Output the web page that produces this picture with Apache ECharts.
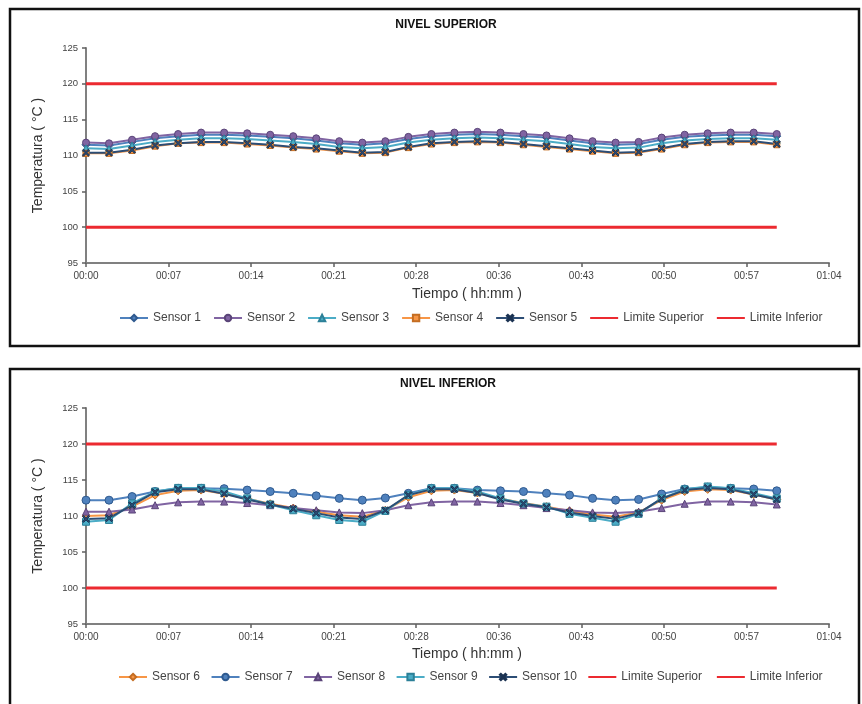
<!DOCTYPE html>
<html>
<head>
<meta charset="utf-8">
<title>Nivel superior / Nivel inferior</title>
<script src="https://cdn.jsdelivr.net/npm/echarts@6/dist/echarts.min.js"></script>
<style>
  html, body { margin: 0; padding: 0; background: #fff; }
  #chart { width: 862px; height: 704px; }
</style>
</head>
<body>
<div id="chart"></div>
<script>
// Sample times (mm:ss from start of the run)
const times = ['00:00','01:59','03:58','05:57','07:56','09:55','11:54','13:53','15:52','17:51',
  '19:50','21:49','23:48','25:47','27:46','29:45','31:44','33:43','35:42','37:41',
  '39:40','41:39','43:38','45:37','47:36','49:35','51:34','53:33','55:32','57:31','59:30'];

// Time axis tick labels (hh:mm)
const xTickLabels = ['00:00','00:07','00:14','00:21','00:28','00:36','00:43','00:50','00:57','01:04'];

// Temperature limits (°C)
const limiteSuperior = 120;
const limiteInferior = 100;

// Upper level sensors (°C)
const sensor1 = [111.5,111.4,111.9,112.4,112.7,112.9,112.9,112.8,112.6,112.4,112.1,111.7,111.5,111.7,112.3,112.7,112.9,113.0,112.9,112.7,112.5,112.1,111.7,111.5,111.6,112.2,112.6,112.8,112.9,112.9,112.7];
const sensor2 = [111.8,111.7,112.2,112.7,113.0,113.2,113.2,113.1,112.9,112.7,112.4,112.0,111.8,112.0,112.6,113.0,113.2,113.3,113.2,113.0,112.8,112.4,112.0,111.8,111.9,112.5,112.9,113.1,113.2,113.2,113.0];
const sensor3 = [111.0,110.9,111.4,111.9,112.2,112.4,112.4,112.3,112.1,111.9,111.6,111.2,111.0,111.2,111.8,112.2,112.4,112.5,112.4,112.2,112.0,111.6,111.2,111.0,111.1,111.7,112.1,112.3,112.4,112.4,112.2];
const sensor4 = [110.3,110.3,110.7,111.3,111.7,111.8,111.8,111.6,111.4,111.1,110.9,110.6,110.3,110.4,111.1,111.6,111.8,111.9,111.8,111.5,111.2,110.9,110.6,110.3,110.4,110.9,111.5,111.8,111.9,111.9,111.5];
const sensor5 = [110.4,110.4,110.8,111.4,111.7,111.9,111.9,111.7,111.5,111.2,111.0,110.7,110.4,110.5,111.2,111.7,111.9,112.0,111.9,111.6,111.3,111.0,110.7,110.4,110.5,111.0,111.6,111.9,112.0,112.0,111.6];

// Lower level sensors (°C)
const sensor6 = [110.0,110.1,111.3,112.9,113.5,113.6,113.1,112.4,111.7,111.1,110.6,110.1,109.9,110.8,112.6,113.5,113.6,113.2,112.4,111.8,111.3,110.7,110.2,109.9,110.5,112.2,113.4,113.7,113.6,113.0,112.3];
const sensor7 = [112.2,112.2,112.7,113.4,113.85,113.85,113.8,113.6,113.4,113.15,112.8,112.45,112.2,112.5,113.15,113.85,113.85,113.6,113.5,113.4,113.15,112.9,112.45,112.2,112.3,113.05,113.75,114.0,113.85,113.75,113.5];
const sensor8 = [110.6,110.6,110.9,111.5,111.9,112.0,112.0,111.8,111.5,111.1,110.8,110.5,110.4,110.8,111.5,111.9,112.0,112.0,111.8,111.5,111.1,110.8,110.5,110.4,110.6,111.1,111.7,112.0,112.0,111.9,111.6];
const sensor9 = [109.2,109.45,111.75,113.4,113.9,113.9,113.4,112.45,111.6,110.8,110.1,109.45,109.2,110.7,112.9,113.85,113.85,113.4,112.45,111.75,111.3,110.3,109.75,109.2,110.3,112.45,113.7,114.1,113.85,113.15,112.45];
const sensor10 = [109.6,109.7,111.5,113.3,113.7,113.7,113.1,112.3,111.6,111.0,110.4,109.8,109.6,110.8,112.9,113.7,113.7,113.2,112.3,111.7,111.2,110.5,110.0,109.6,110.4,112.4,113.6,113.9,113.7,113.0,112.3];

// ---------------------------------------------------------------
const FONT = '"Liberation Sans", Arial, sans-serif';
const AXIS_MAX = 64;                 // minutes
const AXIS_STEP = AXIS_MAX / 9;      // one major unit

const toMinutes = s => { const [m, sec] = s.split(':').map(Number); return m + sec / 60; };
const tMin = times.map(toMinutes);
const pairs = vals => vals.map((v, i) => [tMin[i], v]);

const xMark = 'path://M0,1.5L1.5,0L5,3.5L8.5,0L10,1.5L6.5,5L10,8.5L8.5,10L5,6.5L1.5,10L0,8.5L3.5,5Z';

const palette = {
  blue:   ['#4F81BD', '#2f5a8f'],
  purple: ['#8064A2', '#5a4478'],
  aqua:   ['#4BACC6', '#2c8098'],
  orange: ['#F79646', '#c46d22'],
  navy:   ['#2C4D75', '#1b3252'],
  red:    '#EC2A30'
};

function sensorSeries(name, vals, col, symbol, gridIdx, size) {
  return {
    name, type: 'line', xAxisIndex: gridIdx, yAxisIndex: gridIdx,
    data: pairs(vals), symbol, symbolSize: size || 7, showSymbol: true,
    lineStyle: { color: col[0], width: 2 },
    itemStyle: { color: col[0], borderColor: col[1], borderWidth: 1 },
    emphasis: { disabled: true }, animation: false, z: 3
  };
}
function limitSeries(name, value, gridIdx) {
  return {
    name, type: 'line', xAxisIndex: gridIdx, yAxisIndex: gridIdx,
    data: [[tMin[0], value], [tMin[tMin.length - 1], value]],
    symbol: 'none', lineStyle: { color: palette.red, width: 3 },
    itemStyle: { color: palette.red },
    emphasis: { disabled: true }, animation: false, z: 2
  };
}

const gridTops = [48, 408];
const gridH = [215, 216];

function xAxisFor(i) {
  return {
    gridIndex: i, type: 'value', min: 0, max: AXIS_MAX, interval: AXIS_STEP,
    axisLine: { lineStyle: { color: '#808080', width: 2 } },
    axisTick: { show: true, length: 4, lineStyle: { color: '#606060', width: 1.5 } },
    axisLabel: {
      fontFamily: FONT, fontSize: 10, color: '#444', margin: 8,
      formatter: v => xTickLabels[Math.round(v / AXIS_STEP)]
    },
    splitLine: { show: false }
  };
}
function yAxisFor(i) {
  return {
    gridIndex: i, type: 'value', min: 95, max: 125, interval: 5,
    name: 'Temperatura ( °C )', nameLocation: 'middle', nameGap: 41,
    nameTextStyle: { fontFamily: FONT, fontSize: 14, color: '#333' },
    axisLine: { show: true, lineStyle: { color: '#808080', width: 2 } },
    axisTick: { show: true, length: 4, lineStyle: { color: '#606060', width: 1.5 } },
    axisLabel: { fontFamily: FONT, fontSize: 9.5, color: '#444', margin: 8 },
    splitLine: { show: false }
  };
}

const legendCommon = {
  itemWidth: 28, itemHeight: 8,
  textStyle: { fontFamily: FONT, fontSize: 12, color: '#444' },
  selectedMode: false
};
// limit entries show only their line
const lineOnly = name => ({ name, itemStyle: { opacity: 0 } });

const option = {
  backgroundColor: '#fff',
  animation: false,
  title: [
    { text: 'NIVEL SUPERIOR', left: 441, top: 14, textAlign: 'center',
      textStyle: { fontFamily: FONT, fontSize: 12, fontWeight: 'bold', color: '#111' } },
    { text: 'NIVEL INFERIOR', left: 443, top: 373, textAlign: 'center',
      textStyle: { fontFamily: FONT, fontSize: 12, fontWeight: 'bold', color: '#111' } }
  ],
  grid: [
    { left: 86, top: gridTops[0], width: 743, height: gridH[0] },
    { left: 86, top: gridTops[1], width: 743, height: gridH[1] }
  ],
  xAxis: [xAxisFor(0), xAxisFor(1)],
  yAxis: [yAxisFor(0), yAxisFor(1)],
  legend: [
    Object.assign({ top: 307, left: 114, itemGap: 12, data: ['Sensor 1','Sensor 2','Sensor 3','Sensor 4','Sensor 5',
      lineOnly('Limite Superior'), lineOnly('Limite Inferior')] }, legendCommon),
    Object.assign({ top: 666, left: 113, itemGap: 10.5, data: ['Sensor 6','Sensor 7','Sensor 8','Sensor 9','Sensor 10',
      lineOnly('Limite Superior '), lineOnly('Limite Inferior ')] }, legendCommon)
  ],
  graphic: [
    { type: 'rect', shape: { x: 10, y: 9, width: 849, height: 337 },
      style: { fill: 'none', stroke: '#111', lineWidth: 2.5 }, silent: true },
    { type: 'rect', shape: { x: 10, y: 369, width: 849, height: 345 },
      style: { fill: 'none', stroke: '#111', lineWidth: 2.5 }, silent: true },
    { type: 'text', left: 412, top: 287,
      style: { text: 'Tiempo ( hh:mm )', font: '14px ' + FONT, fill: '#333' } },
    { type: 'text', left: 412, top: 647,
      style: { text: 'Tiempo ( hh:mm )', font: '14px ' + FONT, fill: '#333' } }
  ],
  series: [
    limitSeries('Limite Superior', limiteSuperior, 0),
    limitSeries('Limite Inferior', limiteInferior, 0),
    sensorSeries('Sensor 1', sensor1, palette.blue, 'diamond', 0, 8),
    sensorSeries('Sensor 2', sensor2, palette.purple, 'circle', 0, 7),
    sensorSeries('Sensor 3', sensor3, palette.aqua, 'triangle', 0, 7),
    sensorSeries('Sensor 4', sensor4, palette.orange, 'rect', 0, 6),
    sensorSeries('Sensor 5', sensor5, palette.navy, xMark, 0, 7),

    limitSeries('Limite Superior ', limiteSuperior, 1),
    limitSeries('Limite Inferior ', limiteInferior, 1),
    sensorSeries('Sensor 6', sensor6, palette.orange, 'diamond', 1, 8),
    sensorSeries('Sensor 7', sensor7, palette.blue, 'circle', 1, 8),
    sensorSeries('Sensor 8', sensor8, palette.purple, 'triangle', 1, 7),
    sensorSeries('Sensor 9', sensor9, palette.aqua, 'rect', 1, 7),
    sensorSeries('Sensor 10', sensor10, palette.navy, xMark, 1, 7)
  ]
};

const chart = echarts.init(document.getElementById('chart'), null, { renderer: 'canvas' });
chart.setOption(option);
</script>
</body>
</html>
